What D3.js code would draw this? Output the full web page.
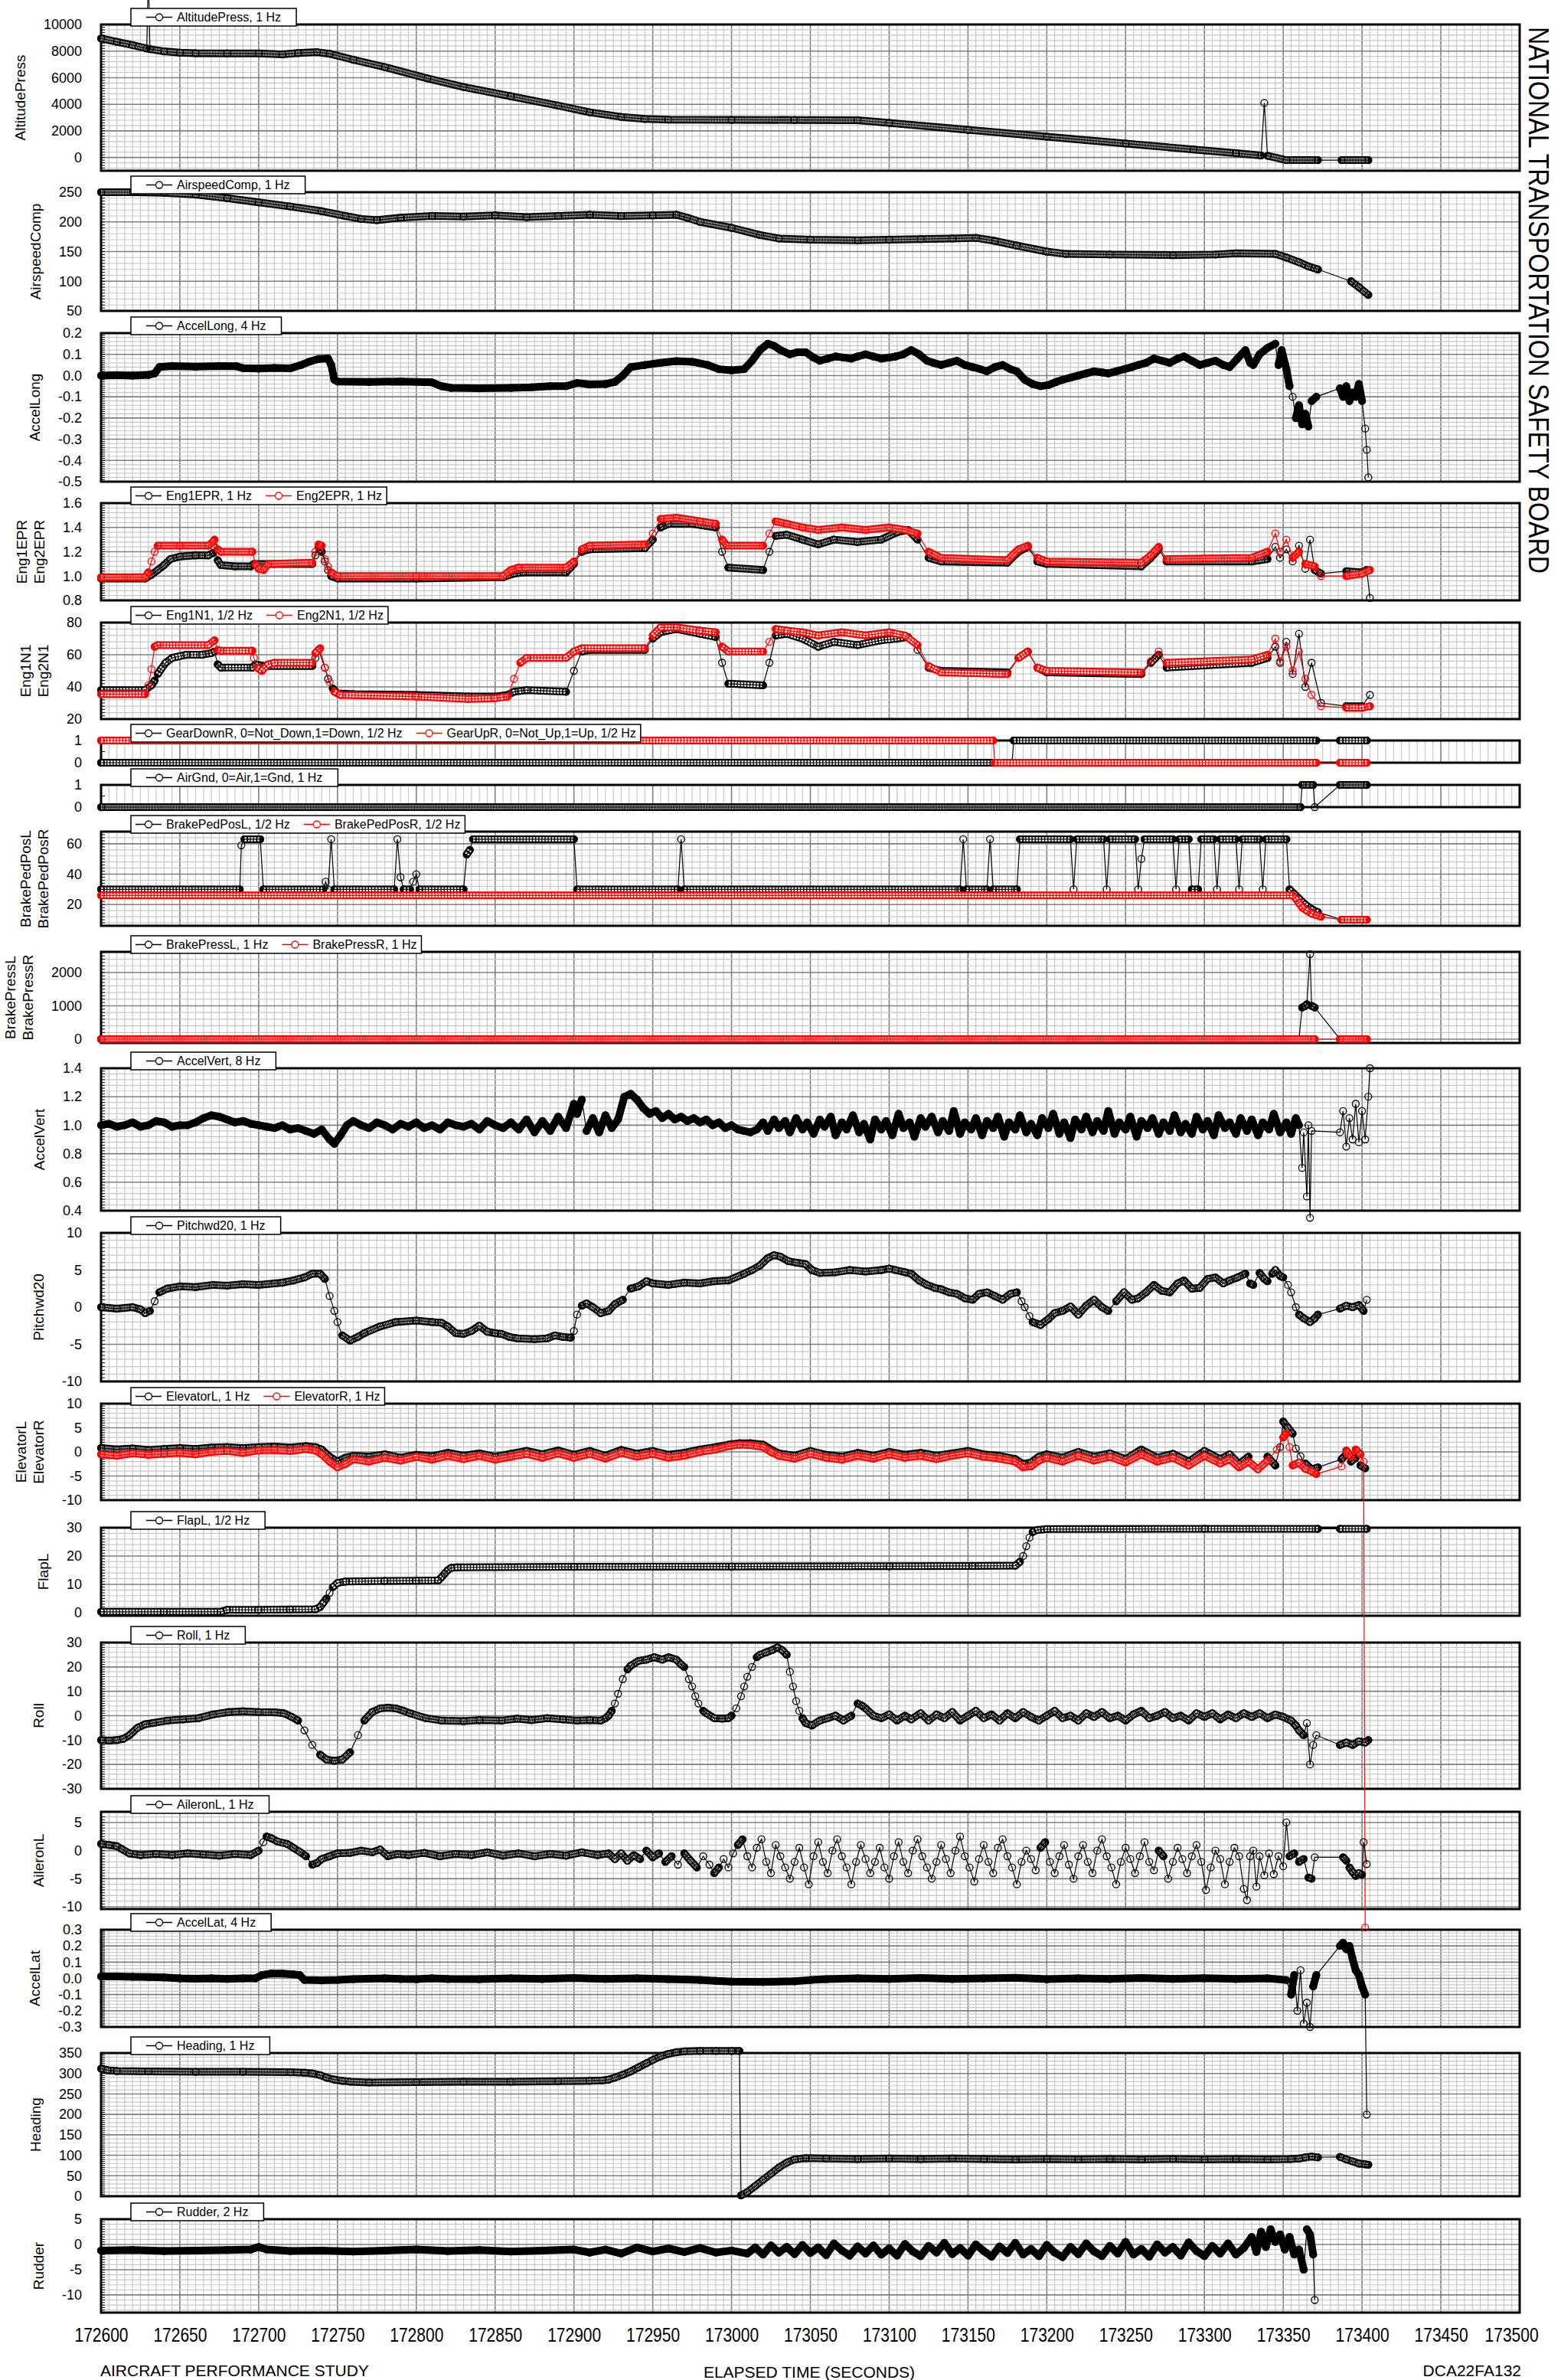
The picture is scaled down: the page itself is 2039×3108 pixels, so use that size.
<!DOCTYPE html>
<html>
<head>
<meta charset="utf-8">
<script src="https://cdn.jsdelivr.net/npm/d3@7"></script>
<style>
body { margin: 0; background: #fff; }
svg { display: block; font-family: Arial, "Liberation Sans", sans-serif; }
</style>
</head>
<body>
<script>
var w = 2039;
var h = 3108;
var T0 = 172600;
var BLACK = "#000", RED = "#ff0000";

//Data: [seconds after 172600, value], null = gap between recorded samples
var altitudePress = [[0,8950],[10,8700],[20,8450],[29,8200],[30,14000],[31,8150],[40,7980],[50,7880],[60,7840],[80,7830],[100,7820],[115,7760],[125,7850],[137,7920],[145,7800],[160,7350],[180,6800],[207,5950],[230,5300],[260,4600],[290,3900],[310,3400],[330,3050],[345,2900],[360,2850],[400,2830],[440,2820],[480,2800],[500,2600],[550,2080],[600,1560],[650,1050],[693,600],[720,320],[736,150],[738,4100],[740,130],[752,-200],[772,-200],null,[787,-200],[804,-200]];
var airspeedComp = [[0,250],[20,250],[40,249],[60,246],[80,240],[100,233],[120,226],[140,218],[155,210],[165,205],[175,203],[190,207],[210,210],[230,209],[250,211],[270,208],[290,210],[310,212],[330,210],[350,211],[365,212],[372,207],[380,200],[400,190],[418,178],[430,172],[450,170],[480,169],[500,170],[520,171],[540,172],[555,173],[567,168],[581,160],[600,150],[612,146],[640,145],[680,144],[707,145],[720,147],[745,146],[752,140],[760,132],[766,125],[772,120],null,[793,100],[798,90],[804,77]];
var accelLong = [[0,0.0],[10,0.002],[20,0.0],[30,0.003],[34,0.01],[37,0.04],[45,0.045],[60,0.042],[75,0.045],[86,0.044],[90,0.035],[100,0.033],[110,0.036],[120,0.034],[127,0.05],[132,0.065],[138,0.078],[144,0.08],[146,0.05],[148,-0.02],[150,-0.028],[170,-0.03],[190,-0.028],[210,-0.032],[216,-0.05],[222,-0.058],[240,-0.06],[260,-0.058],[273,-0.055],[285,-0.05],[295,-0.05],[302,-0.035],[310,-0.042],[320,-0.04],[326,-0.03],[331,0.0],[336,0.04],[345,0.05],[355,0.06],[365,0.068],[375,0.065],[385,0.05],[392,0.03],[400,0.025],[408,0.03],[413,0.07],[418,0.12],[423,0.15],[427,0.14],[431,0.12],[437,0.1],[442,0.11],[447,0.11],[452,0.085],[456,0.07],[461,0.08],[466,0.09],[471,0.085],[476,0.08],[480,0.09],[485,0.1],[490,0.09],[495,0.08],[500,0.085],[504,0.09],[509,0.1],[514,0.12],[519,0.1],[524,0.07],[528,0.06],[533,0.05],[538,0.06],[543,0.07],[548,0.05],[553,0.04],[558,0.03],[562,0.02],[567,0.04],[572,0.05],[577,0.03],[581,0.02],[586,-0.02],[591,-0.04],[596,-0.05],[601,-0.045],[606,-0.03],[610,-0.02],[615,-0.01],[620,0.0],[625,0.01],[630,0.02],[635,0.015],[639,0.01],[644,0.02],[649,0.03],[654,0.04],[658,0.05],[663,0.06],[668,0.08],[673,0.07],[678,0.06],[683,0.08],[687,0.09],[692,0.07],[697,0.05],[702,0.06],[707,0.07],[712,0.05],[716,0.04],[721,0.08],[726,0.12],[729,0.06],[731,0.05],[735,0.1],[740,0.13],[745,0.15],[747,0.05],[749,0.12],[752,0.03],[754,-0.05],null,[756,-0.1],[758,-0.2],[760,-0.14],[762,-0.23],[764,-0.18],[766,-0.24],[768,-0.12],[771,-0.1],null,[786,-0.06],[788,-0.1],[790,-0.05],[792,-0.12],[794,-0.08],[796,-0.1],[798,-0.04],[800,-0.12],[802,-0.25],[803,-0.35],[804,-0.48]];
var eng1EPR = [[0,0.98],[28,0.98],[32,1.01],[36,1.05],[40,1.09],[44,1.14],[50,1.16],[60,1.17],[68,1.17],[71,1.19],[72,1.24],[74,1.13],[76,1.09],[85,1.08],[95,1.08],[97,1.1],[110,1.1],[134,1.1],[136,1.17],[138,1.24],[140,1.2],[142,1.12],[144,1.05],[146,1.0],[150,0.98],[200,0.98],[255,0.99],[262,1.02],[268,1.03],[295,1.03],[300,1.1],[305,1.2],[310,1.22],[345,1.23],[350,1.3],[355,1.4],[360,1.43],[375,1.43],[390,1.4],[394,1.2],[398,1.07],[420,1.05],[424,1.2],[428,1.33],[435,1.34],[445,1.3],[455,1.26],[465,1.3],[480,1.28],[495,1.3],[505,1.36],[512,1.38],[518,1.3],[525,1.15],[533,1.12],[575,1.11],[582,1.2],[588,1.24],[594,1.12],[600,1.1],[660,1.08],[666,1.15],[671,1.22],[676,1.12],[730,1.12],[740,1.14],[745,1.24],[748,1.15],[752,1.22],[756,1.12],[760,1.25],[764,1.06],[767,1.3],[770,1.05],[774,1.02],null,[790,1.04],[800,1.03],[803,1.05],[805,0.82]];
var eng2EPR = [[0,0.99],[28,0.99],[30,1.03],[32,1.12],[34,1.2],[36,1.25],[50,1.25],[68,1.25],[71,1.28],[72,1.3],[74,1.22],[76,1.2],[96,1.2],[98,1.1],[100,1.06],[103,1.05],[106,1.1],[134,1.11],[136,1.2],[138,1.26],[140,1.25],[142,1.14],[144,1.08],[146,1.03],[150,1.0],[200,1.0],[255,1.0],[260,1.05],[265,1.07],[295,1.07],[300,1.12],[305,1.22],[310,1.25],[345,1.26],[350,1.35],[355,1.47],[365,1.48],[380,1.45],[390,1.43],[394,1.3],[397,1.25],[420,1.25],[424,1.35],[428,1.45],[435,1.43],[445,1.4],[455,1.38],[470,1.4],[485,1.38],[500,1.4],[510,1.38],[518,1.35],[525,1.2],[533,1.15],[575,1.13],[582,1.22],[588,1.25],[594,1.15],[600,1.12],[660,1.11],[666,1.17],[671,1.24],[676,1.14],[730,1.15],[740,1.2],[745,1.35],[748,1.2],[752,1.3],[756,1.15],[760,1.2],[764,1.1],[770,1.08],[774,1.0],null,[790,1.0],[800,1.02],[805,1.05]];
var eng1N1 = [[0,38],[28,38],[32,41],[34,44],[36,48],[38,51],[41,55],[45,58],[54,60],[64,60],[70,61],[72,62],[74,54],[76,52],[96,52],[98,54],[103,53],[134,53],[136,58],[138,63],[142,52],[144,45],[147,39],[150,36],[160,35.5],[200,35],[233,34],[250,34],[258,35],[262,37],[270,38],[295,37],[300,50],[305,62],[310,63],[345,63],[350,70],[355,74],[365,76],[380,73],[390,71],[394,55],[398,42],[420,41],[424,55],[428,72],[435,73],[445,70],[455,65],[465,68],[480,66],[495,69],[505,70],[512,71],[518,63],[525,52],[533,50],[575,49],[582,58],[588,62],[594,52],[600,49],[660,48],[666,55],[671,60],[676,52],[730,55],[740,58],[745,65],[748,55],[752,68],[756,48],[760,73],[764,40],[768,55],[774,30],null,[790,28],[800,28],[805,35]];
var eng2N1 = [[0,35.5],[28,35.5],[30,41],[32,51],[34,65],[36,66],[68,66],[72,69],[74,63],[76,62.5],[96,62.5],[97,58],[99,52],[102,50],[106,54],[110,55],[134,55],[136,61],[139,64],[142,52],[145,43],[148,37],[152,35],[200,34],[233,32.5],[250,33],[258,34],[262,45],[266,55],[270,58],[295,58],[300,62],[305,64],[345,64],[350,72],[355,77],[365,77],[380,75],[390,74],[394,65],[398,62],[420,62],[424,68],[428,76],[435,75],[445,74],[455,72],[470,74],[485,72],[500,74],[510,72],[518,66],[525,53],[533,49],[575,48],[582,58],[588,62],[594,52],[600,50],[660,49],[666,56],[671,62],[676,55],[730,57],[740,60],[745,70],[748,56],[752,65],[756,50],[760,62],[764,45],[768,35],[774,28],null,[790,27],[800,27],[805,28]];
var gearDownR = [[0,0],[578,0],[579,1],[771,1],null,[786,1],[803,1]];
var gearUpR = [[0,1],[566,1],[567,0],[771,0],null,[786,0],[803,0]];
var airGnd = [[0,0],[761,0],[762,1],[769,1],[770,0],null,[786,1],[803,1]];
var brakePedPosL = [[0,30],[88,30],[89,59],[91,63],[101,63],[103,30],[141,30],[142.5,35],[144,30],[146,63],[148,30],[186,30],[188,63],[190,38],[192,30],[196,30],[198,35],[200,40],[202,30],[230,30],[232,53],[234,56],[236,63],[300,63],[302,30],[366,30],[368,63],[370,30],[545,30],[547,63],[549,30],[562,30],[564,63],[566,30],[581,30],[583,63],[615,63],[617,30],[619,63],[636,63],[638,30],[640,63],[656,63],[658,30],[660,50],[662,63],[680,63],[682,30],[684,63],[690,63],[692,30],[696,30],[698,63],[706,63],[708,30],[710,63],[720,63],[722,30],[724,63],[735,63],[737,30],[739,63],[752,63],[754,30],[757,27],[760,24],[764,20],[768,17],[772,15],null,[787,10],[795,10],[803,10]];
var brakePedPosR = [[0,26],[756,26],[758,24],[760,21],[762,18],[765,16],[768,14],[771,13],[774,12],null,[787,10],[795,10],[803,10]];
var brakePressL = [[0,0],[760,0],[762,950],[764,1000],[765,1050],[767,2550],[768,1000],[770,950],null,[786,0],[803,0]];
var brakePressR = [[0,0],[770,0],null,[786,0],[803,0]];
var accelVert = [[0,1.0],[5,1.01],[10,0.99],[15,1.0],[20,1.02],[25,0.99],[30,1.0],[35,1.03],[40,1.02],[45,0.99],[50,1.0],[55,1.0],[60,1.02],[65,1.05],[70,1.07],[75,1.06],[80,1.04],[85,1.02],[90,1.03],[95,1.01],[100,1.0],[105,0.99],[110,0.98],[115,1.0],[120,0.97],[125,0.98],[130,0.96],[135,0.94],[140,0.97],[145,0.9],[148,0.87],[152,0.93],[156,1.0],[160,1.03],[165,1.0],[170,0.98],[175,1.02],[180,1.0],[185,0.97],[190,1.01],[195,0.99],[200,1.02],[205,0.98],[210,1.0],[215,0.97],[220,1.02],[225,1.0],[230,0.99],[235,1.01],[240,0.97],[245,1.03],[250,1.0],[255,0.98],[260,1.02],[265,0.97],[270,1.04],[275,0.95],[280,1.03],[285,0.96],[290,1.06],[295,0.98],[300,1.15],[302,1.08],[305,1.18],[308,0.96],[312,1.05],[316,0.95],[320,1.07],[324,0.98],[328,1.04],[332,1.2],[336,1.22],[340,1.18],[344,1.12],[348,1.08],[352,1.1],[356,1.05],[360,1.08],[364,1.04],[368,1.06],[372,1.03],[376,1.05],[380,1.02],[384,1.04],[388,1.0],[392,1.02],[396,0.98],[400,1.0],[404,0.97],[408,0.96],[412,0.95],[416,0.97],[420,1.02],[423,0.96],[427,1.04],[430,0.98],[434,1.03],[437,0.95],[441,1.05],[445,0.97],[448,1.02],[452,0.94],[456,1.04],[459,0.99],[463,1.06],[466,0.93],[470,1.02],[473,0.97],[477,1.07],[481,0.95],[484,1.01],[488,0.9],[491,1.04],[495,0.97],[498,1.03],[502,0.93],[506,1.08],[509,0.98],[513,1.02],[516,0.92],[520,1.05],[523,0.99],[527,1.06],[531,0.95],[534,1.03],[538,0.96],[541,1.1],[545,0.94],[548,1.02],[552,0.97],[555,1.05],[559,0.93],[562,1.03],[566,0.98],[569,1.06],[573,0.92],[576,1.02],[580,0.97],[583,1.07],[587,0.95],[590,1.01],[594,0.93],[597,1.05],[601,0.98],[604,1.08],[608,0.94],[611,1.02],[615,0.91],[618,1.04],[622,0.97],[625,1.06],[629,0.95],[632,1.03],[636,0.96],[639,1.1],[643,0.94],[646,1.02],[650,0.97],[653,1.06],[657,0.92],[660,1.03],[664,0.98],[667,1.05],[671,0.94],[674,1.02],[678,0.96],[681,1.07],[685,0.95],[688,1.01],[692,0.94],[695,1.06],[699,0.97],[702,1.03],[706,0.93],[709,1.07],[713,0.98],[716,1.02],[720,0.94],[723,1.05],[727,0.96],[730,1.04],[734,0.93],[737,1.02],[741,0.97],[744,1.08],[748,0.95],[752,1.02],[755,0.94],[758,1.05],[760,1.0],[762,0.7],[763,0.95],[765,0.5],[766,1.0],[767,0.35],[768,0.96],null,[786,0.95],[788,1.1],[790,0.85],[792,1.05],[794,0.9],[796,1.15],[798,0.88],[800,1.1],[802,0.9],[804,1.2],[805,1.4]];
var pitchwd20 = [[0,0.0],[10,-0.2],[20,0.0],[25,-0.3],[28,-0.8],[31,-0.5],[34,0.8],[37,2.0],[42,2.5],[50,2.8],[60,2.7],[71,3.0],[80,2.9],[90,3.1],[100,3.0],[110,3.2],[115,3.3],[122,3.6],[129,4.0],[134,4.5],[139,4.5],[142,3.8],[145,1.5],[148,-0.5],[150,-2.0],[153,-3.8],[158,-4.5],[163,-4.0],[167,-3.5],[177,-2.6],[187,-2.0],[200,-1.8],[210,-2.0],[216,-2.1],[220,-2.6],[225,-3.5],[230,-3.6],[235,-3.2],[240,-2.5],[245,-3.3],[250,-3.5],[254,-3.6],[259,-4.0],[264,-4.2],[275,-4.3],[283,-4.2],[288,-3.8],[293,-4.0],[298,-4.1],[300,-3.2],[302,-1.0],[305,0.2],[308,0.5],[312,0.0],[317,-0.8],[322,-0.5],[326,0.4],[331,1.0],[336,2.5],[341,2.8],[346,3.5],[350,3.2],[360,3.0],[370,3.3],[380,3.2],[389,3.5],[398,3.6],[408,4.5],[413,5.0],[418,5.6],[423,6.6],[427,7.0],[431,6.8],[436,6.2],[441,6.0],[447,5.8],[451,5.0],[456,4.6],[466,4.7],[475,5.0],[485,4.8],[495,5.0],[500,5.2],[504,5.0],[510,4.7],[514,4.5],[519,3.6],[524,3.0],[529,2.6],[533,2.4],[538,2.0],[543,1.8],[548,1.2],[553,1.0],[557,1.8],[562,2.0],[567,1.5],[572,1.0],[577,1.8],[581,2.0],[584,0.8],[586,0.0],[589,-1.2],[591,-2.0],[596,-2.4],[601,-1.6],[605,-0.8],[610,-0.5],[615,0.1],[620,-1.0],[625,0.2],[630,1.0],[635,0.0],[639,-0.5],[644,0.8],[649,2.0],[654,1.0],[658,1.2],[663,2.0],[668,3.0],[673,2.2],[678,2.0],[683,3.2],[687,3.6],[692,2.5],[697,2.6],[702,3.8],[707,4.0],[712,3.2],[716,3.6],[721,4.0],[726,4.5],[729,3.2],[731,3.0],[735,4.6],[738,3.8],[740,3.5],[743,4.5],[745,5.0],[748,4.2],[750,4.0],[753,3.0],[755,2.0],[758,0.0],[760,-1.0],[763,-1.5],[767,-2.0],[770,-1.5],[772,-1.0],null,[786,-0.2],[790,0.2],[794,0.0],[798,0.3],[801,-0.5],[803,1.0]];
var elevatorL = [[0,0.8],[10,0.5],[20,0.7],[30,0.4],[40,0.6],[50,0.8],[60,0.6],[70,0.9],[80,1.0],[90,0.8],[100,1.0],[110,1.1],[120,0.9],[130,1.2],[136,1.0],[140,0.5],[145,-1.0],[150,-2.0],[155,-1.2],[160,-0.8],[170,-1.0],[180,-0.5],[190,-1.2],[200,-0.6],[210,-0.9],[220,-0.2],[230,-0.8],[240,-0.3],[250,-1.0],[260,-0.4],[270,0.2],[280,-0.5],[290,0.3],[300,-0.6],[310,0.2],[320,-0.8],[330,0.4],[340,-0.4],[350,0.2],[360,-0.6],[370,-0.2],[380,0.5],[390,1.0],[398,1.5],[405,1.8],[412,1.8],[420,1.5],[425,0.5],[430,-0.3],[440,-0.8],[450,0.2],[460,-0.6],[470,-1.0],[480,-0.2],[490,-0.8],[500,0.0],[510,-0.6],[520,-0.2],[530,-0.8],[540,-0.3],[550,0.2],[560,-0.5],[570,-0.8],[580,-1.5],[585,-2.5],[590,-2.2],[595,-1.0],[600,-0.5],[610,-1.2],[620,0.0],[630,-1.0],[640,-0.3],[650,-1.5],[660,0.5],[670,-1.2],[680,-0.4],[690,-2.0],[700,0.2],[710,-1.5],[716,-0.5],[722,-2.5],[728,-1.0],[734,-3.5],[740,-1.0],[745,-2.8],[748,1.0],[750,6.3],[753,5.0],[756,3.8],[758,0.7],[761,-0.9],[764,-2.4],[768,-3.6],[772,-3.2],null,[787,-1.5],[790,-0.5],[793,-2.0],[796,-1.2],[799,-2.8],[802,-3.4]];
var elevatorR = [[0,-0.5],[10,-0.8],[20,-0.3],[30,-0.6],[40,-0.4],[50,-0.2],[60,-0.5],[70,0.0],[80,0.2],[90,-0.2],[100,0.3],[110,0.4],[120,0.2],[130,0.6],[136,0.3],[140,-0.5],[145,-2.0],[150,-3.2],[155,-2.5],[160,-1.5],[170,-2.0],[180,-1.2],[190,-1.8],[200,-1.0],[210,-1.6],[220,-0.8],[230,-1.5],[240,-0.8],[250,-1.6],[260,-1.0],[270,-0.4],[280,-1.2],[290,-0.3],[300,-1.2],[310,-0.4],[320,-1.4],[330,-0.2],[340,-1.0],[350,-0.4],[360,-1.2],[370,-0.8],[380,0.0],[390,0.5],[398,1.2],[405,1.5],[412,1.4],[420,1.0],[425,0.0],[430,-0.8],[440,-1.4],[450,-0.4],[460,-1.2],[470,-1.6],[480,-0.8],[490,-1.4],[500,-0.5],[510,-1.2],[520,-0.8],[530,-1.5],[540,-0.8],[550,-0.3],[560,-1.0],[570,-1.4],[580,-2.0],[585,-3.2],[590,-3.0],[595,-1.8],[600,-1.2],[610,-2.0],[620,-0.8],[630,-1.8],[640,-1.0],[650,-2.2],[660,-0.5],[670,-2.0],[680,-1.2],[690,-2.8],[700,-0.8],[710,-2.4],[716,-1.5],[722,-3.2],[728,-2.0],[734,-3.6],[740,-1.8],[746,0.5],[750,3.0],[752,3.8],[754,1.0],[756,-2.8],[760,-2.2],[764,-3.5],[768,-4.0],[771,-4.6],null,[787,-3.0],[790,0.3],[793,-1.0],[796,0.5],[799,-0.5],[801,-2.0],[802,-98.6]];
var flapL = [[0,0.3],[40,0.3],[76,0.3],[80,1.0],[100,1.0],[120,1.1],[136,1.2],[139,2.0],[141,3.5],[143,5.0],[145,7.0],[147,9.0],[150,10.5],[155,11.0],[180,11.2],[200,11.3],[214,11.4],[216,12.5],[218,13.8],[220,15.0],[222,15.8],[226,16.0],[300,16.2],[400,16.3],[500,16.4],[553,16.5],[580,16.6],[583,18.0],[585,20.0],[587,23.5],[589,26.5],[591,28.5],[594,29.2],[600,29.5],[700,29.6],[772,29.6],null,[786,29.6],[803,29.6]];
var roll = [[0,-10],[5,-10.2],[10,-10],[14,-9.5],[18,-8],[23,-5],[28,-3.5],[33,-3],[42,-2],[52,-1.5],[62,-1],[71,0.5],[81,1.5],[90,1.8],[100,1.5],[110,1.4],[116,1],[121,-0.5],[125,-2],[129,-6],[134,-12],[139,-16],[143,-18],[148,-18.5],[153,-18],[158,-15],[163,-8],[167,-2],[172,1.5],[177,3],[182,3.3],[187,3],[192,2],[196,1],[206,-1],[216,-2],[230,-2.2],[240,-1.8],[254,-2],[264,-1.2],[273,-1.8],[283,-1],[293,-1.5],[302,-2],[310,-1.8],[317,-2],[320,-1],[322,0],[324,2],[326,5],[328,9],[331,15],[334,19],[336,20.5],[341,22.5],[346,23],[351,24],[356,23],[360,24],[365,23],[368,21],[370,20],[373,15],[375,12],[377,8],[379,5],[382,2],[384,1],[389,-1],[394,-1.2],[398,-1],[400,0],[403,3],[406,8],[408,12],[410,16],[413,20],[416,24],[418,25],[422,26],[426,27],[429,28],[432,27],[435,25],[437,18],[439,12],[441,6],[443,2],[445,-1],[447,-3],[451,-4],[456,-2],[461,-1],[466,0],[471,-2],[476,0],[480,5],[483,4],[485,3],[490,0],[495,-1],[500,0.5],[505,-2],[510,0],[514,-1.5],[520,1],[525,-2],[530,0.5],[535,-1],[540,1.5],[545,-2],[550,0],[555,2],[560,-1],[565,0.5],[570,-2],[575,1],[580,-1],[585,1.5],[590,-0.5],[595,-2],[600,0],[605,2],[610,-1],[615,0],[620,-2],[625,1],[630,-0.5],[635,1.5],[640,-1],[645,0],[650,-2],[655,0.5],[660,2],[665,-1],[670,0],[675,1.5],[680,-1],[685,0],[690,-2],[695,1],[700,-0.5],[705,1],[710,-1.5],[715,0.5],[720,-1],[725,1],[730,-0.5],[735,1],[740,-1],[745,0.5],[750,-0.5],[755,-2],[758,-4],[760,-6],[763,-8],[765,-3],[767,-20],[769,-12],[771,-8],null,[786,-12],[790,-11],[794,-12],[798,-10.5],[802,-11],[804,-10]];
var aileronL = [[0,1.2],[5,1.0],[10,0.8],[13,0.3],[18,-0.5],[25,-0.8],[35,-0.6],[45,-0.8],[55,-0.5],[65,-0.7],[75,-0.9],[85,-0.6],[95,-0.8],[100,0],[103,1.5],[105,2.5],[108,2.2],[112,1.6],[118,1.2],[122,0.5],[126,-0.2],[130,-1],[134,-2.5],[137,-2.2],[140,-1.5],[145,-1],[150,-0.5],[158,-0.4],[165,0],[172,-0.3],[177,0.2],[182,-1],[188,-0.6],[195,-0.8],[205,-0.4],[215,-1],[225,-0.6],[235,-0.8],[245,-0.3],[255,-0.9],[265,-0.5],[275,-1],[285,-0.6],[295,-0.9],[305,-0.3],[315,-0.8],[322,-0.5],[326,-1.5],[330,-0.5],[334,-1.8],[338,-0.8],[342,-1.5],[346,0],[350,-1.2],[354,-0.5],[358,-2],[362,-1],[366,-2.5],[370,-0.5],[374,-1.8],[378,-3],[382,-1],[386,-2.5],[389,-4],[392,-3],[395,-1.5],[398,-3],[401,-0.5],[404,1],[407,2],[410,-1],[413,-3],[416,0.5],[419,2],[422,-2],[425,-4],[428,1],[431,-1],[434,-3],[437,-5],[440,-2],[443,0.5],[446,-3],[449,-6],[452,-1],[455,1.5],[458,-2],[461,-4],[464,0],[467,2],[470,-1],[473,-3],[476,-6],[479,-2],[482,1],[485,-1.5],[488,-4],[491,-2],[494,0.5],[497,-3],[500,-5],[503,-1],[506,1.5],[509,-2],[512,-4],[515,0],[518,2],[521,-1],[524,-3],[527,-5],[530,-2],[533,1],[536,-1.5],[539,-4],[542,0],[545,2.5],[548,-1],[551,-3],[554,-5.5],[557,-1.5],[560,1],[563,-2],[566,-4],[569,0.5],[572,2],[575,-1],[578,-3],[581,-6],[584,-2],[587,0],[590,-1.5],[593,-3.5],[596,0.5],[599,1.5],[602,-2],[605,-4],[608,-1],[611,1],[614,-2.5],[617,-5],[620,-1],[623,1],[626,-2],[629,-4],[632,0],[635,2],[638,-1],[641,-3],[644,-6],[647,-2],[650,0.5],[653,-1.5],[656,-4],[659,-1],[662,1.5],[665,-2],[668,-3.5],[671,0],[674,-1],[677,-5],[680,-2],[683,0.5],[686,-1.5],[689,-4],[692,-1],[695,1],[698,-2],[701,-7],[704,-3],[707,0],[710,-1.5],[713,-6],[716,-2],[719,0.5],[722,-1],[725,-6.8],[727,-8.8],[729,-1],[731,0],[733,-6.4],[735,-1],[738,-4.4],[741,-0.5],[744,-4.2],[747,-1],[750,-2.8],[752,5],[754,-1],[757,-0.5],[760,-2],[763,-1.5],[766,-4.8],[768,-5],[770,-1.2],null,[788,-1.2],[790,-1.8],[792,-3],[794,-3.8],[796,-4.5],[798,-4],[800,-4.3],[801,1.5],[803,-2.4]];
var accelLat = [[0,0.012],[10,0.012],[20,0.01],[30,0.008],[40,0.006],[50,0.0],[60,-0.002],[70,0.0],[80,-0.003],[90,0.0],[98,0.0],[102,0.02],[108,0.03],[115,0.03],[122,0.025],[126,0.02],[129,-0.01],[140,-0.012],[150,-0.01],[160,-0.005],[170,-0.002],[180,0.0],[190,-0.004],[200,-0.005],[210,0.0],[220,-0.004],[240,-0.005],[260,0.0],[280,-0.004],[300,0.002],[320,-0.003],[340,0.0],[360,-0.005],[380,-0.01],[390,-0.015],[400,-0.02],[420,-0.022],[440,-0.018],[450,-0.01],[460,-0.005],[480,0.0],[500,-0.003],[520,0.002],[540,-0.004],[560,0.0],[580,0.003],[600,-0.005],[620,0.0],[640,-0.004],[660,0.002],[680,-0.003],[700,0.001],[720,-0.004],[740,0.0],[752,-0.01],null,[755,-0.1],[757,0.02],[759,-0.2],[761,0.05],[763,-0.28],[765,-0.15],[767,-0.3],[769,-0.05],[771,0.02],null,[786,0.2],[788,0.22],[790,0.18],[792,0.2],[794,0.12],[796,0.05],[798,0.02],[800,-0.05],[802,-0.1],[803,-0.84]];
var heading = [[0,312],[4,308],[10,306],[30,305],[60,304],[90,304],[120,303],[129,302],[134,300],[139,296],[143,290],[148,285],[153,282],[158,280],[170,278],[200,279],[230,280],[260,280],[290,281],[310,282],[318,283],[322,285],[326,290],[331,297],[336,305],[341,315],[346,325],[350,333],[355,342],[360,348],[365,352],[370,354],[380,355],[390,355],[400,355],[405,355],[406,2],[410,10],[415,25],[420,40],[425,55],[430,70],[435,82],[440,90],[447,93],[460,92],[480,91],[500,92],[520,91],[540,92],[560,91],[580,90],[600,91],[620,90],[640,91],[660,90],[680,91],[700,90],[720,91],[740,90],[755,91],[760,92],[764,95],[768,97],[772,95],null,[786,96],[790,90],[794,85],[798,80],[802,78],[804,77]];
var rudder = [[0,-1.2],[20,-1.1],[40,-1.3],[60,-1.2],[80,-1.1],[95,-1.0],[100,-0.5],[105,-1.0],[120,-1.3],[140,-1.2],[160,-1.4],[180,-1.2],[200,-1.0],[220,-1.3],[240,-1.1],[260,-1.4],[280,-1.2],[300,-1.0],[310,-1.6],[320,-1.0],[330,-1.8],[340,-0.6],[350,-1.4],[360,-0.8],[370,-1.5],[380,-0.7],[390,-1.6],[400,-1.2],[410,-1.8],[415,-0.6],[420,-2.0],[425,-0.2],[430,-1.6],[435,-0.5],[440,-1.9],[445,-0.1],[450,-1.7],[455,-0.6],[460,-2.1],[465,0.2],[470,-1.2],[475,-2.2],[480,-0.4],[485,-1.8],[490,-0.2],[495,-2.0],[500,-0.8],[505,-2.2],[510,0.1],[515,-1.4],[520,-2.3],[525,-0.3],[530,-1.6],[535,0.3],[540,-1.9],[545,-0.7],[550,-2.2],[555,0.0],[560,-1.3],[565,-2.4],[570,-0.4],[575,-1.7],[580,0.3],[585,-2.0],[590,-0.9],[595,-2.3],[600,-0.1],[605,-1.6],[610,-2.5],[615,-0.5],[620,-1.9],[625,0.2],[630,-1.4],[635,-2.3],[640,-0.3],[645,-1.8],[650,0.5],[655,-2.0],[660,-0.9],[665,-2.4],[670,0.0],[675,-1.6],[680,-0.5],[685,-2.2],[690,0.4],[695,-1.3],[700,-2.3],[705,-0.3],[710,-1.8],[715,0.2],[720,-2.0],[725,-0.7],[730,1.5],[733,-1.5],[736,2.5],[739,-0.5],[742,3.0],[745,0.5],[748,2.0],[751,-1.0],[754,1.5],[757,-2.0],[760,-1.0],[763,-5.0],[765,3.0],[767,2.0],[769,-2],[770,-11]];

//Tick labels
var xTicks = [172600,172650,172700,172750,172800,172850,172900,172950,173000,173050,173100,173150,173200,173250,173300,173350,173400,173450,173500];
var altitudeTicks = [0,2000,4000,6000,8000,10000];
var airspeedTicks = [50,100,150,200,250];
var accelLongTicks = [-0.5,-0.4,-0.3,-0.2,-0.1,0,0.1,0.2];
var eprTicks = [0.8,1.0,1.2,1.4,1.6];
var n1Ticks = [20,40,60,80];
var discreteTicks = [0,1];
var brakePedTicks = [20,40,60];
var brakePressTicks = [0,1000,2000];
var accelVertTicks = [0.4,0.6,0.8,1.0,1.2,1.4];
var pitchTicks = [-10,-5,0,5,10];
var elevatorTicks = [-10,-5,0,5,10];
var flapTicks = [0,10,20,30];
var rollTicks = [-30,-20,-10,0,10,20,30];
var aileronTicks = [-10,-5,0,5];
var accelLatTicks = [-0.3,-0.2,-0.1,0,0.1,0.2,0.3];
var headingTicks = [0,50,100,150,200,250,300,350];
var rudderTicks = [-10,-5,0,5];

var panels = [
  {title:["AltitudePress"], domain:[-1000,10000], ticks:altitudeTicks, dec:0, minor:400, top:32, bottom:223,
   series:[{name:"AltitudePress, 1 Hz", color:BLACK, hz:1, data:altitudePress}]},
  {title:["AirspeedComp"], domain:[50,250], ticks:airspeedTicks, dec:0, minor:10, top:251, bottom:406,
   series:[{name:"AirspeedComp, 1 Hz", color:BLACK, hz:1, data:airspeedComp}]},
  {title:["AccelLong"], domain:[-0.5,0.2], ticks:accelLongTicks, dec:1, minor:0.02, top:435, bottom:629,
   series:[{name:"AccelLong, 4 Hz", color:BLACK, hz:4, data:accelLong}]},
  {title:["Eng1EPR","Eng2EPR"], domain:[0.8,1.6], ticks:eprTicks, dec:1, minor:0.04, top:657, bottom:784,
   series:[{name:"Eng1EPR, 1 Hz", color:BLACK, hz:1, data:eng1EPR},{name:"Eng2EPR, 1 Hz", color:RED, hz:1, data:eng2EPR}]},
  {title:["Eng1N1","Eng2N1"], domain:[20,80], ticks:n1Ticks, dec:0, minor:4, top:813, bottom:939,
   series:[{name:"Eng1N1, 1/2 Hz", color:BLACK, hz:0.5, data:eng1N1},{name:"Eng2N1, 1/2 Hz", color:RED, hz:0.5, data:eng2N1}]},
  {title:[], domain:[0,1], ticks:discreteTicks, dec:0, minor:1, top:967, bottom:996,
   series:[{name:"GearDownR, 0=Not_Down,1=Down, 1/2 Hz", color:BLACK, hz:0.5, data:gearDownR},{name:"GearUpR, 0=Not_Up,1=Up, 1/2 Hz", color:RED, hz:0.5, data:gearUpR}]},
  {title:[], domain:[0,1], ticks:discreteTicks, dec:0, minor:1, top:1025, bottom:1054,
   series:[{name:"AirGnd, 0=Air,1=Gnd, 1 Hz", color:BLACK, hz:1, data:airGnd}]},
  {title:["BrakePedPosL","BrakePedPosR"], domain:[6,68], ticks:brakePedTicks, dec:0, minor:4, top:1086, bottom:1209,
   series:[{name:"BrakePedPosL, 1/2 Hz", color:BLACK, hz:0.5, data:brakePedPosL},{name:"BrakePedPosR, 1/2 Hz", color:RED, hz:0.5, data:brakePedPosR}]},
  {title:["BrakePressL","BrakePressR"], domain:[-115,2620], ticks:brakePressTicks, dec:0, minor:200, top:1243, bottom:1362,
   series:[{name:"BrakePressL, 1 Hz", color:BLACK, hz:1, data:brakePressL},{name:"BrakePressR, 1 Hz", color:RED, hz:1, data:brakePressR}]},
  {title:["AccelVert"], domain:[0.4,1.4], ticks:accelVertTicks, dec:1, minor:0.04, top:1395, bottom:1581,
   series:[{name:"AccelVert, 8 Hz", color:BLACK, hz:8, data:accelVert}]},
  {title:["Pitchwd20"], domain:[-10,10], ticks:pitchTicks, dec:0, minor:1, top:1610, bottom:1804,
   series:[{name:"Pitchwd20, 1 Hz", color:BLACK, hz:1, data:pitchwd20}]},
  {title:["ElevatorL","ElevatorR"], domain:[-10,10], ticks:elevatorTicks, dec:0, minor:1, top:1833, bottom:1959,
   series:[{name:"ElevatorL, 1 Hz", color:BLACK, hz:1, data:elevatorL},{name:"ElevatorR, 1 Hz", color:RED, hz:1, data:elevatorR}]},
  {title:["FlapL"], domain:[-1.1,30], ticks:flapTicks, dec:0, minor:2, top:1995, bottom:2110,
   series:[{name:"FlapL, 1/2 Hz", color:BLACK, hz:0.5, data:flapL}]},
  {title:["Roll"], domain:[-30,30], ticks:rollTicks, dec:0, minor:2, top:2145, bottom:2336,
   series:[{name:"Roll, 1 Hz", color:BLACK, hz:1, data:roll}]},
  {title:["AileronL"], domain:[-10.4,6.9], ticks:aileronTicks, dec:0, minor:1, top:2366, bottom:2493,
   series:[{name:"AileronL, 1 Hz", color:BLACK, hz:1, data:aileronL}]},
  {title:["AccelLat"], domain:[-0.3,0.3], ticks:accelLatTicks, dec:1, minor:0.02, top:2520, bottom:2647,
   series:[{name:"AccelLat, 4 Hz", color:BLACK, hz:4, data:accelLat}]},
  {title:["Heading"], domain:[0,350], ticks:headingTicks, dec:0, minor:10, top:2681, bottom:2868,
   series:[{name:"Heading, 1 Hz", color:BLACK, hz:1, data:heading}]},
  {title:["Rudder"], domain:[-13.5,5], ticks:rudderTicks, dec:0, minor:1, top:2898, bottom:3020,
   series:[{name:"Rudder, 2 Hz", color:BLACK, hz:2, data:rudder}]}
];

var svg = d3.select("body")
            .append("svg")
            .attr("width", w)
            .attr("height", h);

var xScale = d3.scaleLinear()
               .domain([172600, 173500])
               .range([132, 1985]);
var pxPerSec = xScale(T0 + 1) - xScale(T0);

var gridLayer = svg.append("g");
var dataLayer = svg.append("g");
var legendLayer = svg.append("g");

panels.forEach(function(p) {
    p.y = d3.scaleLinear().domain(p.domain).range([p.bottom, p.top]);
    var g = gridLayer.append("g");
    var major = p.ticks[1] - p.ticks[0];

    //vertical grid, 5 s minor, 50 s major
    for (var k = 1; k < 180; k++) {
        var xx = xScale(T0 + k * 5);
        g.append("line")
         .attr("x1", xx).attr("x2", xx).attr("y1", p.top).attr("y2", p.bottom)
         .attr("stroke", k % 10 === 0 ? "#7f7f7f" : "#c8c8c8")
         .attr("stroke-width", k % 10 === 0 ? 1.6 : 1.2);
    }
    //horizontal grid
    var k0 = Math.ceil(p.domain[0] / p.minor - 1e-9), k1 = Math.floor(p.domain[1] / p.minor + 1e-9);
    for (var j = k0; j <= k1; j++) {
        var v = j * p.minor;
        var isMajor = Math.abs(v / major - Math.round(v / major)) < 1e-6;
        var yy = p.y(v);
        g.append("line")
         .attr("x1", xScale.range()[0]).attr("x2", xScale.range()[1]).attr("y1", yy).attr("y2", yy)
         .attr("stroke", isMajor ? "#7f7f7f" : "#c8c8c8")
         .attr("stroke-width", isMajor ? 1.6 : 1.2);
    }
    //small inside ticks on the left edge
    for (var m = k0 * 2; m <= k1 * 2; m++) {
        var ty = p.y(m * p.minor / 2);
        g.append("line").attr("x1", 132).attr("x2", 137).attr("y1", ty).attr("y2", ty)
         .attr("stroke", "#000").attr("stroke-width", 1);
    }
    g.append("rect")
     .attr("x", 132).attr("y", p.top)
     .attr("width", 1985 - 132).attr("height", p.bottom - p.top)
     .attr("fill", "none").attr("stroke", "#000").attr("stroke-width", 3);

    //y axis labels
    var ax = gridLayer.append("g")
        .attr("transform", "translate(132,0)")
        .call(d3.axisLeft(p.y).tickValues(p.ticks).tickSize(0).tickPadding(25)
              .tickFormat(function(d) { return d.toFixed(p.dec); }));
    ax.select(".domain").remove();
    ax.attr("font-size", 18).attr("font-family", "Arial, 'Liberation Sans', sans-serif");
    ax.selectAll("text").attr("fill", "#000");

    var left = 132 - 25;
    ax.selectAll("text").each(function() {
        left = Math.min(left, 132 + this.getBBox().x);
    });
    var cy = (p.top + p.bottom) / 2;
    var n = p.title.length;
    p.title.forEach(function(t, i) {
        var bx = left - 24 - (n - 1 - i) * 23;
        gridLayer.append("text")
            .attr("transform", "translate(" + bx + "," + cy + ") rotate(-90)")
            .attr("text-anchor", "middle")
            .attr("font-size", 19)
            .text(t);
    });
});

function bandSegments(data, y, hz) {
    var segs = [], cur = [];
    var k = hz >= 2 ? 4 : 0.9, c = hz >= 2 ? 10 : 3;
    data.forEach(function(d) {
        if (d === null) { if (cur.length) segs.push(cur); cur = []; return; }
        var pt = [xScale(T0 + d[0]), y(d[1])];
        if (cur.length) {
            var q = cur[cur.length - 1];
            if (Math.abs(pt[1] - q[1]) > k * Math.abs(pt[0] - q[0]) + c) { segs.push(cur); cur = []; }
        }
        cur.push(pt);
    });
    if (cur.length) segs.push(cur);
    return segs.filter(function(s) { return s.length > 1; });
}

var line = d3.line();

panels.forEach(function(p) {
    p.series.forEach(function(s) {
        var g = dataLayer.append("g");
        var pts = s.data.filter(function(d) { return d !== null; });
        var period = pxPerSec / s.hz;

        //dense run of sample circles
        bandSegments(s.data, p.y, s.hz).forEach(function(seg) {
            g.append("path").attr("d", line(seg))
             .attr("fill", "none").attr("stroke", s.color).attr("stroke-width", 10)
             .attr("stroke-linecap", "round").attr("stroke-linejoin", "round");
            if (period > 1.6) {
                var white = Math.max(period * 0.55, period - 1.3);
                g.append("path").attr("d", line(seg))
                 .attr("fill", "none").attr("stroke", "#fff").attr("stroke-width", 5.5)
                 .attr("stroke-dasharray", white.toFixed(2) + " " + (period - white).toFixed(2))
                 .attr("stroke-opacity", s.hz >= 1 ? 0.8 : 0.95);
            }
        });

        g.append("path")
         .attr("d", line(pts.map(function(d) { return [xScale(T0 + d[0]), p.y(d[1])]; })))
         .attr("fill", "none").attr("stroke", s.color).attr("stroke-width", 1.2);

        g.selectAll("circle")
         .data(pts)
         .enter()
         .append("circle")
         .attr("cx", function(d) { return xScale(T0 + d[0]); })
         .attr("cy", function(d) { return p.y(d[1]); })
         .attr("r", 4.5)
         .attr("fill", "none")
         .attr("stroke", s.color)
         .attr("stroke-width", 1.3);
    });

    //legend
    var lg = legendLayer.append("g");
    var boxTop = p.top - 21, boxH = 23, mid = boxTop + boxH / 2;
    var pad = p.series.length > 1 ? 6 : 20;
    var box = lg.append("rect").attr("x", 171).attr("y", boxTop).attr("height", boxH)
                .attr("fill", "#fff").attr("stroke", "#000").attr("stroke-width", 1.5);
    var cx = 171 + pad;
    p.series.forEach(function(s, i) {
        if (i > 0) cx += 18;
        lg.append("line").attr("x1", cx).attr("x2", cx + 34).attr("y1", mid).attr("y2", mid)
          .attr("stroke", s.color).attr("stroke-width", 1.3);
        lg.append("circle").attr("cx", cx + 17).attr("cy", mid).attr("r", 4.5)
          .attr("fill", "#fff").attr("stroke", s.color).attr("stroke-width", 1.3);
        var t = lg.append("text").attr("x", cx + 40).attr("y", mid + 5.5)
                  .attr("font-size", 16).text(s.name);
        cx += 40 + t.node().getComputedTextLength();
    });
    box.attr("width", cx + pad - 171);
});

//x axis
var xAxis = svg.append("g")
    .attr("transform", "translate(0,3037)")
    .call(d3.axisBottom(xScale).tickValues(xTicks).tickSize(0).tickPadding(3).tickFormat(d3.format("d")));
xAxis.select(".domain").remove();
xAxis.attr("font-size", 25).attr("font-family", "Arial, 'Liberation Sans', sans-serif");
xAxis.selectAll("text").attr("fill", "#000").attr("transform", "scale(0.84,1)");
xAxis.selectAll("text").filter(function(d) { return d === 173500; }).attr("x", -13);

svg.append("text").attr("x", 131).attr("y", 3103).attr("font-size", 21)
   .text("AIRCRAFT PERFORMANCE STUDY");
svg.append("text").attr("x", 1057).attr("y", 3105).attr("font-size", 21).attr("text-anchor", "middle")
   .text("ELAPSED TIME (SECONDS)");
svg.append("text").attr("x", 1987).attr("y", 3103).attr("font-size", 21).attr("text-anchor", "end")
   .text("DCA22FA132");

svg.append("text")
   .attr("transform", "translate(1997,35) rotate(90)")
   .attr("font-size", 36)
   .attr("textLength", 714)
   .attr("lengthAdjust", "spacingAndGlyphs")
   .text("NATIONAL TRANSPORTATION SAFETY BOARD");
</script>
</body>
</html>
